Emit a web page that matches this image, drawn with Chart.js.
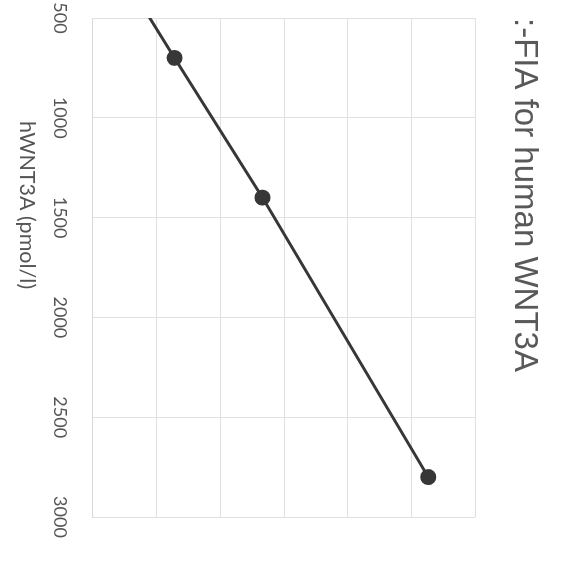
<!DOCTYPE html>
<html>
<head>
<meta charset="utf-8">
<script src="https://cdn.jsdelivr.net/npm/chart.js@4.4.1/dist/chart.umd.min.js"></script>
<style>
  html, body { margin: 0; padding: 0; background: #fff; overflow: hidden; }
  body { width: 572px; height: 562px; position: relative; }
  /* the chart is shown turned a quarter clockwise, like the scanned page */
  #wrap {
    position: absolute; left: 0; top: 0;
    width: 562px; height: 572px;
    transform-origin: 0 0;
    transform: translate(572px, 0) rotate(90deg);
  }
</style>
</head>
<body>
<div id="wrap"><canvas id="myChart" width="562" height="572"></canvas></div>
<script>
// standard curve points, hWNT3A in pmol/l and the signal read at each
var concentrations = [350, 700, 1400, 2800];
var signal = [0.30, 0.64, 1.33, 2.63];
var xTicks = [500, 1000, 1500, 2000, 2500, 3000];
var xTitle = 'hWNT3A (pmol/l)';

// axis title sits left of centre in the original, so draw it ourselves
var axisTitle = {
    id: 'axisTitle',
    afterDraw: function (chart) {
        var a = chart.chartArea;
        var c = chart.ctx;
        c.save();
        c.fillStyle = '#555555';
        c.font = '21.5px Lato';
        c.textAlign = 'center';
        c.textBaseline = 'middle';
        c.fillText(xTitle, a.left + (a.right - a.left) * 0.375, chart.height - 27);
        c.restore();
    }
};

var ctx = document.getElementById('myChart').getContext('2d');
var chart = new Chart(ctx, {
    type: 'scatter',
    data: {
        datasets: [{
            label: 'hWNT3A',
            data: concentrations.map(function (c, i) { return { x: c, y: signal[i] }; }),
            showLine: true,
            borderColor: '#373737',
            borderWidth: 3,
            backgroundColor: '#373737',
            pointRadius: 6.5,
            pointHoverRadius: 6.5,
            tension: 0
        }]
    },
    options: {
        responsive: false,
        animation: false,
        layout: { padding: { left: 18, right: 45, top: 0, bottom: 0 } },
        plugins: {
            legend: { display: false },
            tooltip: { enabled: false },
            title: {
                display: true,
                text: ':-FIA for human WNT3A',
                align: 'start',
                color: '#595959',
                font: { family: 'Liberation Sans', size: 33, weight: 'normal' },
                padding: { top: 28, bottom: 29 }
            }
        },
        scales: {
            x: {
                type: 'linear',
                min: 500,
                max: 3000,
                afterBuildTicks: function (axis) {
                    axis.ticks = xTicks.map(function (v) { return { value: v }; });
                },
                afterFit: function (axis) {
                    axis.height = 93;
                    axis.paddingLeft = 0;
                    axis.paddingRight = 0;
                },
                grid: { color: '#e0e0e0', drawTicks: false },
                border: { color: '#d8d8d8' },
                ticks: {
                    color: '#555555',
                    padding: 22,
                    maxRotation: 0,
                    font: { family: 'Lato', size: 18 },
                    callback: function (v) { return String(v); }
                }
            },
            y: {
                min: 0,
                max: 3,
                afterFit: function (axis) { axis.width = 0; },
                ticks: { display: false, stepSize: 0.5 },
                grid: { color: '#e0e0e0', drawTicks: false },
                border: { color: '#e0e0e0' }
            }
        }
    },
    plugins: [axisTitle]
});
</script>
</body>
</html>
